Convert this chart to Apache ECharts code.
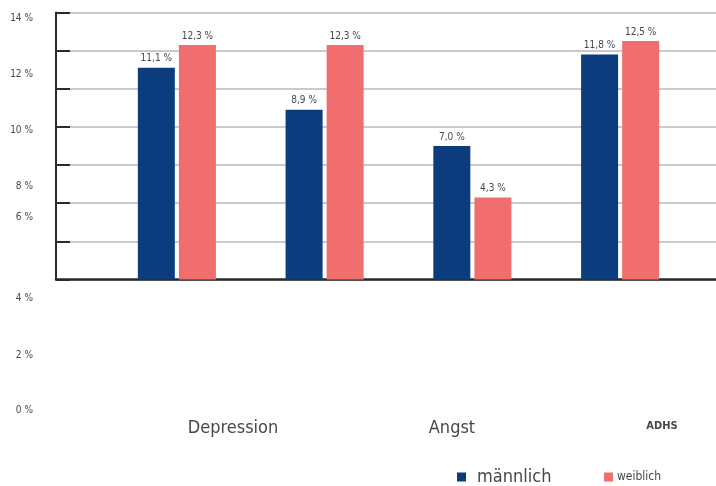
<!DOCTYPE html>
<html><head><meta charset="utf-8">
<script src="https://cdn.jsdelivr.net/npm/echarts@6/dist/echarts.min.js"></script>
<style>html,body{margin:0;padding:0;background:#fff}#c{width:716px;height:486px}</style>
</head><body><div id="c"></div>
<script>
var categories = ['', 'Depression', 'Angst', 'ADHS'];
var maennlich = [11.1, 8.9, 7.0, 11.8];
var weiblich = [12.3, 12.3, 4.3, 12.5];
var yTickLabels = ['14 %', '12 %', '10 %', '8 %', '6 %', '4 %', '2 %', '0 %'];
var seriesNames = ['männlich', 'weiblich'];

var FONT = '"Liberation Sans Narrow","DejaVu Sans Condensed","Roboto Condensed",sans-serif';
var chart = echarts.init(document.getElementById('c'), null, {renderer: 'canvas'});

function fmt(p) { return p.value.toFixed(1).replace('.', ',') + ' %'; }

// misplaced y labels as in reference
var yLabelY = [19, 75, 131, 187, 218, 299, 356, 411];
var graphics = [];
yTickLabels.forEach(function (t, i) {
  graphics.push({type: 'text', right: 716 - 33, top: yLabelY[i] - 6,
    style: {text: t, font: '10px ' + FONT, fill: '#474747', textAlign: 'right'}});
});
// category labels
var catX = [null, 233, 452, 662];
var catSize = [0, 18, 18, 11];
var catY = [0, 428, 428, 426];
for (var i = 1; i < categories.length; i++) {
  graphics.push({type: 'text', x: catX[i], y: catY[i],
    style: {text: categories[i], font: (i === 3 ? 'bold ' : '') + catSize[i] + 'px ' + FONT,
      fill: '#474747', align: 'center', verticalAlign: 'middle'}});
}

chart.setOption({
  animation: false,
  backgroundColor: '#fff',
  textStyle: {fontFamily: FONT},
  grid: [
    {left: 56, right: 0, top: 12.5, bottom: 206.5},
    {left: 103, right: 22, top: 12.5, bottom: 206.5}
  ],
  xAxis: [
    {gridIndex: 0, type: 'value', min: 0, max: 1, axisLine: {show: true, onZero: false, lineStyle: {color: '#2a2a2a', width: 2.5}},
      axisTick: {show: false}, axisLabel: {show: false}, splitLine: {show: false}},
    {gridIndex: 1, type: 'category', data: categories, show: false}
  ],
  yAxis: [
    {gridIndex: 0, type: 'value', min: 0, max: 14, interval: 2,
      axisLine: {show: true, lineStyle: {color: '#2a2a2a', width: 2}},
      axisTick: {show: true, inside: true, length: 14, lineStyle: {color: '#2a2a2a', width: 2}},
      axisLabel: {show: false},
      splitLine: {show: true, lineStyle: {color: '#b8b8b8', width: 1.5}}},
    {gridIndex: 1, type: 'value', min: 0, max: 14, show: false, splitLine: {show: false}}
  ],
  legend: [
    {data: [seriesNames[0]], left: 457, top: 468, padding: 0, icon: 'rect', itemWidth: 9, itemHeight: 9,
      textStyle: {fontSize: 18, color: '#474747', fontFamily: FONT, padding: [0, 0, 0, 6]}},
    {data: [seriesNames[1]], left: 604, top: 471, padding: 0, icon: 'rect', itemWidth: 9, itemHeight: 9,
      textStyle: {fontSize: 12, color: '#474747', fontFamily: FONT, padding: [0, 0, 0, -1]}}
  ],
  series: [
    {name: seriesNames[0], type: 'bar', xAxisIndex: 1, yAxisIndex: 1, data: maennlich,
      barWidth: 37, barGap: '11%', itemStyle: {color: '#0b3c7d'},
      label: {show: true, position: 'top', distance: 4, formatter: fmt, fontSize: 10, color: '#474747', fontFamily: FONT}},
    {name: seriesNames[1], type: 'bar', xAxisIndex: 1, yAxisIndex: 1, data: weiblich,
      barWidth: 37, itemStyle: {color: '#f06e6e'},
      label: {show: true, position: 'top', distance: 4, formatter: fmt, fontSize: 10, color: '#474747', fontFamily: FONT}}
  ],
  graphic: graphics
});
</script></body></html>
